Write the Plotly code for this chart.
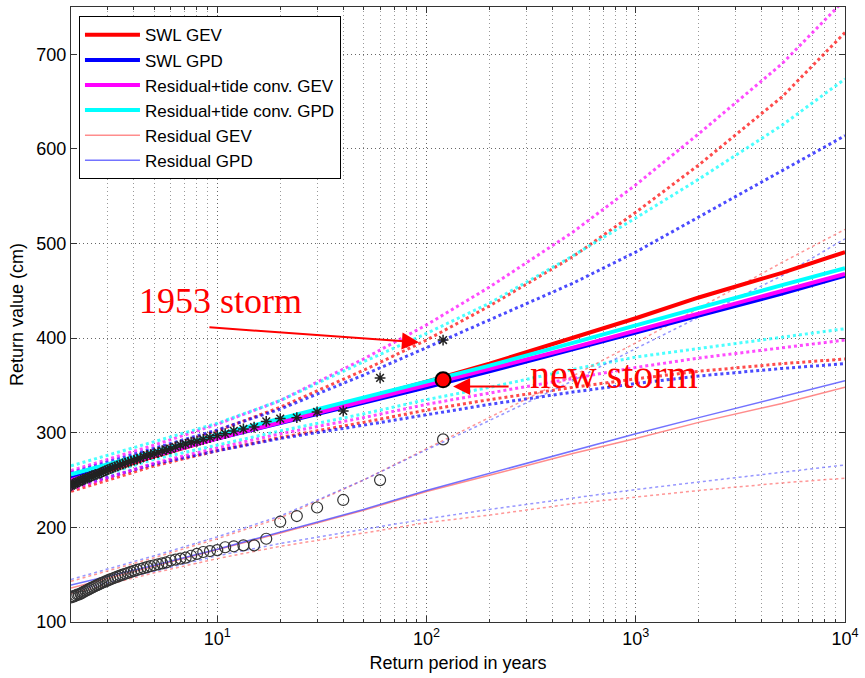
import math
import plotly.graph_objects as go

# Return periods (years) at which the fitted curves are evaluated
T_FIT = [2, 5, 10, 20, 50, 100, 200, 500, 1000, 2000, 5000, 10000]

# Central return-value estimates (cm)
swl_gev = [248, 275, 294, 312, 335, 354, 373, 400, 421, 443, 469, 491]
swl_gpd = [252, 277, 294, 310, 331, 348, 365, 388, 406, 424, 447, 466]
rt_gev = [250, 276, 294, 311, 333, 350, 367, 390, 408, 426, 450, 468]
rt_gpd = [256, 280, 298, 315, 337, 354, 371, 395, 413, 432, 456, 474]
res_gev = [136, 159, 176, 194, 218, 238, 255, 278, 294, 311, 331, 348]
res_gpd = [139, 160, 177, 195, 219, 239, 257, 281, 299, 316, 338, 355]

# Confidence bounds (cm)
swl_gev_hi = [255, 282, 302, 327, 366, 398, 434, 486, 533, 583, 655, 723]
swl_gev_lo = [238, 265, 281, 295, 311, 324, 335, 348, 357, 365, 373, 378]
swl_gpd_hi = [258, 284, 303, 325, 361, 390, 419, 458, 491, 528, 577, 614]
swl_gpd_lo = [242, 267, 281, 294, 308, 319, 330, 343, 352, 360, 368, 373]
rt_gev_hi = [260, 287, 309, 334, 378, 414, 454, 512, 562, 616, 690, 758]
rt_gev_lo = [240, 268, 284, 299, 316, 330, 342, 357, 369, 379, 390, 398]
rt_gpd_hi = [265, 291, 310, 334, 375, 405, 437, 487, 527, 568, 625, 674]
rt_gpd_lo = [245, 272, 287, 302, 320, 335, 348, 367, 380, 389, 401, 410]
res_gev_hi = [143, 168, 188, 210, 250, 283, 316, 360, 395, 432, 480, 515]
res_gev_lo = [130, 152, 167, 180, 194, 205, 213, 225, 232, 239, 247, 252]
res_gpd_hi = [145, 170, 190, 212, 250, 282, 313, 355, 389, 422, 466, 505]
res_gpd_lo = [132, 154, 170, 183, 198, 209, 219, 231, 240, 248, 258, 266]

# Annual maxima, sorted from largest down (cm)
N_YEARS = 119
swl_obs = [398, 358, 323, 322, 316, 315, 312, 306, 304, 302,
           299, 297, 295, 293, 291, 290, 288, 287, 285, 283,
           282, 281, 279, 278, 277, 276, 275, 273, 272, 271,
           270, 269, 268, 267, 266, 265, 264, 263, 262, 261,
           260, 259, 258, 257, 256, 256, 255, 254, 253, 252,
           252, 251, 250, 249, 248, 248, 247, 246, 245, 244]
res_obs = [293, 250, 229, 221, 212, 206, 188, 181, 181, 180,
           179, 176, 175, 174, 172, 170, 168, 167, 166, 165,
           163, 162, 161, 160, 159, 158, 157, 156, 155, 154,
           153, 152, 151, 150, 149, 148, 147, 146, 145, 144,
           143, 142, 141, 140, 139, 138, 137, 136, 135, 134,
           133, 132, 131, 130, 129, 129, 128, 127, 127, 126]

# Recent event
new_storm_T = [120]
new_storm_val = [356]

X_TICKS = [10, 100, 1000, 10000]
X_TICKTEXT = ["10<sup>1</sup>", "10<sup>2</sup>", "10<sup>3</sup>", "10<sup>4</sup>"]
Y_TICKS = [100, 200, 300, 400, 500, 600, 700]

RED, BLUE, MAG, CYAN = "#ff0000", "#0000ff", "#ff00ff", "#00ffff"
SANS = "Liberation Sans, Arial, sans-serif"
SERIF = "Liberation Serif, Times New Roman, serif"

# Weibull plotting positions
swl_T = [(N_YEARS + 1) / r for r in range(1, len(swl_obs) + 1)]
res_T = [(N_YEARS + 1) / r for r in range(1, len(res_obs) + 1)]

fig = go.Figure()


def bound(y, color, width, opacity):
    fig.add_trace(go.Scatter(
        x=T_FIT, y=y, mode="lines", showlegend=False, hoverinfo="skip",
        opacity=opacity, line=dict(color=color, width=width, dash="dot")))


# dotted confidence bounds
for hi, lo, col in [(swl_gev_hi, swl_gev_lo, RED), (swl_gpd_hi, swl_gpd_lo, BLUE),
                    (rt_gev_hi, rt_gev_lo, MAG), (rt_gpd_hi, rt_gpd_lo, CYAN)]:
    bound(hi, col, 3, 0.7)
    bound(lo, col, 3, 0.7)
for hi, lo, col in [(res_gev_hi, res_gev_lo, "#ff6060"), (res_gpd_hi, res_gpd_lo, "#6060ff")]:
    bound(hi, col, 1.5, 0.65)
    bound(lo, col, 1.5, 0.65)

# central estimates
central = [
    ("SWL GEV", swl_gev, RED, 4, 1.0),
    ("SWL GPD", swl_gpd, BLUE, 4, 1.0),
    ("Residual+tide conv. GEV", rt_gev, MAG, 4, 1.0),
    ("Residual+tide conv. GPD", rt_gpd, CYAN, 4, 1.0),
    ("Residual GEV", res_gev, "#ff7070", 1.5, 0.8),
    ("Residual GPD", res_gpd, "#5050ff", 1.5, 0.8),
]
for i, (name, y, col, w, op) in enumerate(central):
    fig.add_trace(go.Scatter(
        x=T_FIT, y=y, mode="lines", name=name, legendrank=i + 1,
        opacity=op, line=dict(color=col, width=w)))

# observed annual maxima
fig.add_trace(go.Scatter(
    x=swl_T, y=swl_obs, mode="markers", showlegend=False,
    marker=dict(symbol="asterisk-open", size=9, color="#222",
                line=dict(color="#222", width=1.5))))
fig.add_trace(go.Scatter(
    x=res_T, y=res_obs, mode="markers", showlegend=False,
    marker=dict(symbol="circle-open", size=11, color="#333",
                line=dict(color="#333", width=1.2))))

# recent storm
fig.add_trace(go.Scatter(
    x=new_storm_T, y=new_storm_val, mode="markers", showlegend=False,
    marker=dict(symbol="circle", size=15, color=RED,
                line=dict(color="black", width=2))))

grid = dict(showgrid=True, gridcolor="#666", griddash="1px,3px", gridwidth=1)
minor_x = [k * 10 ** d for d in range(0, 4) for k in range(2, 10)]

fig.update_layout(
    width=865, height=678,
    margin=dict(l=71, r=14, t=6, b=56),
    paper_bgcolor="white", plot_bgcolor="white",
    font=dict(family=SANS, size=18, color="black"),
    xaxis=dict(
        type="log", range=[math.log10(2), 4],
        tickmode="array", tickvals=X_TICKS, ticktext=X_TICKTEXT,
        ticks="inside", ticklen=6, tickcolor="#333",
        showline=True, linecolor="#333", linewidth=1, mirror="allticks",
        zeroline=False,
        minor=dict(tickvals=minor_x, ticks="inside", ticklen=3, tickcolor="#333",
                   showgrid=True, gridcolor="#999", griddash="1px,3px"),
        title=dict(text="Return period in years", font=dict(size=18), standoff=8),
        **grid),
    yaxis=dict(
        range=[100, 750], tickmode="array", tickvals=Y_TICKS,
        ticks="inside", ticklen=6, tickcolor="#333",
        showline=True, linecolor="#333", linewidth=1, mirror="allticks",
        zeroline=False,
        title=dict(text="Return value (cm)", font=dict(size=18), standoff=8),
        **grid),
    legend=dict(
        x=0.0103, y=0.985, xanchor="left", yanchor="top",
        bgcolor="white", bordercolor="black", borderwidth=1,
        font=dict(family=SANS, size=17), itemwidth=55, tracegroupgap=0),
    showlegend=True,
    annotations=[
        dict(x=math.log10(92), y=395.7, xref="x", yref="y", text="",
             showarrow=True, ax=-211, ay=-15, arrowhead=2, arrowsize=1.7,
             arrowwidth=2, arrowcolor=RED, standoff=0),
        dict(x=1.0156, y=439.7, xref="x", yref="y", text="1953 storm",
             showarrow=False, xanchor="center", yanchor="middle",
             font=dict(family=SERIF, size=36, color=RED)),
        dict(x=math.log10(134), y=349, xref="x", yref="y", text="",
             showarrow=True, ax=57, ay=0, arrowhead=2, arrowsize=1.7,
             arrowwidth=2, arrowcolor=RED, standoff=0),
        dict(x=2.895, y=361.6, xref="x", yref="y", text="new storm",
             showarrow=False, xanchor="center", yanchor="middle",
             font=dict(family=SERIF, size=40, color=RED)),
    ],
)

fig.write_html("out.html")
